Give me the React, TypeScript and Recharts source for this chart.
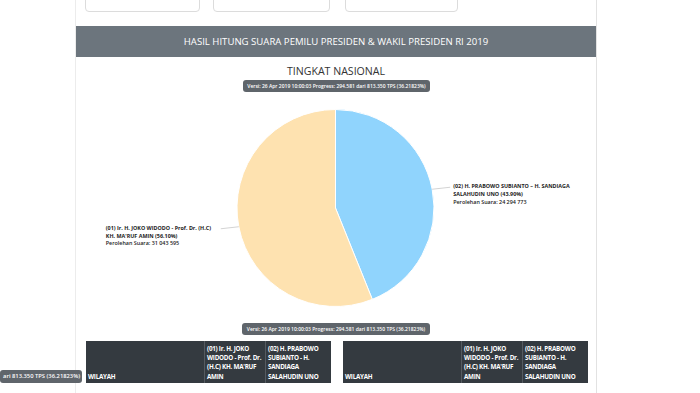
import React from 'react'
import { PieChart, Pie, Cell } from 'recharts'

// ---- data -------------------------------------------------------------
const candidates = [
  '(02) H. PRABOWO SUBIANTO – H. SANDIAGA SALAHUDIN UNO',
  '(01) Ir. H. JOKO WIDODO - Prof. Dr. (H.C) KH. MA\'RUF AMIN',
]
const labelLines1 = ['(02) H. PRABOWO SUBIANTO – H. SANDIAGA', 'SALAHUDIN UNO (43.90%)']
const labelLines2 = ['(01) Ir. H. JOKO WIDODO - Prof. Dr. (H.C)', 'KH. MA\'RUF AMIN (56.10%)']
const votes = [24294773, 31043595]
const voteText = ['24 294 773', '31 043 595']
const sliceColors = ['#90D4FD', '#FEE2B0']

const versiText = 'Versi: 26 Apr 2019 10:00:03 Progress: 294.581 dari 813.350 TPS (36.21823%)'
const tableHeads = [
  'WILAYAH',
  "(01) Ir. H. JOKO WIDODO - Prof. Dr. (H.C) KH. MA'RUF AMIN",
  '(02) H. PRABOWO SUBIANTO - H. SANDIAGA SALAHUDIN UNO',
]

const pieData = candidates.map((name, i) => ({ name, value: votes[i] }))

const FONT = '"Open Sans", "Noto Sans", sans-serif'
const RAD = Math.PI / 180

// label pinned on slice edge, with a short leader line
function renderLabel(props: any) {
  const { cx, cy, midAngle, outerRadius, index } = props
  const cos = Math.cos(-midAngle * RAD)
  const sin = Math.sin(-midAngle * RAD)
  const sx = cx + outerRadius * cos
  const sy = cy + outerRadius * sin
  const right = cos >= 0
  const ex = sx + (right ? 18 : -18)
  const ey = sy + (right ? -2 : 2)
  const lines = index === 0 ? labelLines1 : labelLines2
  const tx = right ? ex + 3 : ex - 115
  return (
    <g>
      <path d={`M${sx},${sy}L${ex},${ey}`} stroke="#c8c8c8" strokeWidth={0.8} fill="none" />
      <text x={tx} y={ey + 1} fontSize={5.4} fontWeight={700} fill="#222" fontFamily={FONT}>
        <tspan x={tx} dy={0}>{lines[0]}</tspan>
        <tspan x={tx} dy={7.8}>{lines[1]}</tspan>
        <tspan x={tx} dy={7.8} fontWeight={600}>{`Perolehan Suara: ${voteText[index]}`}</tspan>
      </text>
    </g>
  )
}

function Badge({ left, top, width, text }: { left: number; top: number; width: number; text: string }) {
  return (
    <div style={{
      position: 'absolute', left, top, width, height: 12, background: '#5f656b', color: '#fff',
      borderRadius: 3, fontSize: 5, lineHeight: '12px', textAlign: 'center', whiteSpace: 'nowrap',
      overflow: 'hidden', fontWeight: 600,
    }}>{text}</div>
  )
}

function HeadTable({ left, widths }: { left: number; widths: number[] }) {
  return (
    <div style={{ position: 'absolute', left, top: 341, height: 42, display: 'flex', background: '#343a40' }}>
      {tableHeads.map((h, i) => (
        <div key={i} style={{
          width: widths[i], height: 42, boxSizing: 'border-box', padding: '2px 2px',
          borderLeft: i > 0 ? '1px solid #555b61' : 'none', color: '#fff', fontSize: 6.3,
          letterSpacing: -0.25, fontWeight: 700, lineHeight: '9.3px', display: 'flex', alignItems: 'flex-end',
        }}>{h}</div>
      ))}
    </div>
  )
}

export default function App() {
  return (
    <div style={{ position: 'fixed', left: 0, top: 0, width: 700, height: 393, background: '#fff', overflow: 'hidden', fontFamily: FONT }}>
      {/* filter boxes at the top */}
      {[[85, 115], [213, 117], [345, 113]].map(([l, w], i) => (
        <div key={i} style={{ position: 'absolute', left: l, top: -6, width: w, height: 18, border: '1px solid #dcdcdc', borderRadius: 4, boxSizing: 'border-box' }} />
      ))}
      {/* card borders */}
      <div style={{ position: 'absolute', left: 75, top: 0, width: 522, height: 393, borderLeft: '1px solid #ececec', borderRight: '1px solid #e2e2e2', boxSizing: 'border-box' }} />
      <div style={{
        position: 'absolute', left: 76, top: 26, width: 520, height: 31, background: '#6c757d', color: '#fff',
        fontSize: 9.6, lineHeight: '31px', textAlign: 'center',
      }}>HASIL HITUNG SUARA PEMILU PRESIDEN &amp; WAKIL PRESIDEN RI 2019</div>
      <div style={{ position: 'absolute', left: 76, top: 64, width: 520, textAlign: 'center', fontSize: 10.6, color: '#333' }}>TINGKAT NASIONAL</div>
      <Badge left={243} top={80} width={187} text={versiText} />

      <div style={{ position: 'absolute', left: 0, top: 0 }}>
        <PieChart width={700} height={393} margin={{ top: 0, right: 0, bottom: 0, left: 0 }}>
          <Pie
            data={pieData}
            dataKey="value"
            cx={335.5}
            cy={208}
            outerRadius={98.5}
            startAngle={90}
            endAngle={-270}
            stroke="#fff"
            strokeWidth={1}
            label={renderLabel}
            labelLine={false}
            isAnimationActive={false}
          >
            {pieData.map((d, i) => <Cell key={d.name} fill={sliceColors[i]} />)}
          </Pie>
        </PieChart>
      </div>

      <Badge left={242} top={323} width={188} text={versiText} />
      <HeadTable left={86} widths={[118, 61, 66]} />
      <HeadTable left={343} widths={[118, 61, 66]} />
      <div style={{
        position: 'absolute', left: 0, top: 370, width: 82, height: 13, background: '#5f656b', color: '#fff',
        borderRadius: 3, fontSize: 5.8, lineHeight: '13px', whiteSpace: 'nowrap', overflow: 'hidden', direction: 'rtl', fontWeight: 600,
        paddingRight: 2, boxSizing: 'border-box',
      }}>{'\u200Eari 813.350 TPS (36.21823%)'}</div>
    </div>
  )
}
